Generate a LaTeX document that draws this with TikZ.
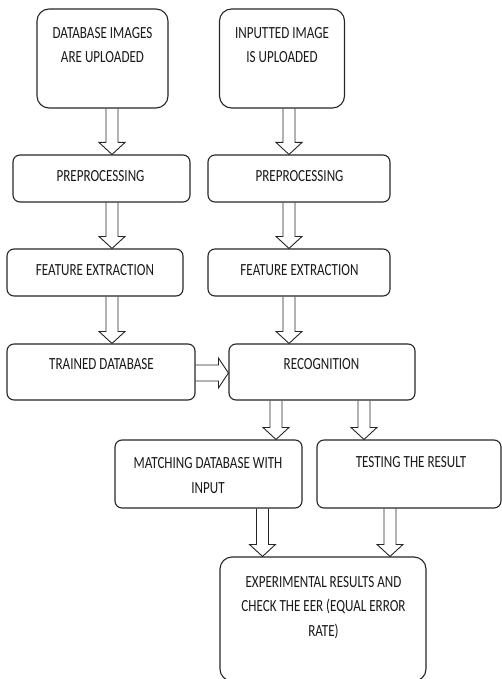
\documentclass[tikz,border=0pt]{standalone}
\usepackage{fontspec}
\setmainfont{Carlito}[FakeStretch=0.77]
\usetikzlibrary{calc}

\tikzset{
  box/.style={draw=black!85, line width=1.1pt, rounded corners=7pt},
  tallbox/.style={box, rounded corners=12pt},
  lbl/.style={align=center, inner sep=0pt, text=black!90, font=\fontsize{17}{24.5}\selectfont},
  blockarrow/.style={draw=black!85, line width=0.9pt, line join=miter}
}

% hollow arrow going down: x, upper node, lower node
\newcommand{\varrow}[3]{%
  \draw[blockarrow] let \p1=(#2.south), \p2=(#3.north) in
    (#1-6,\y1) -- (#1-6,\y2+12) -- (#1-13,\y2+12) -- (#1,\y2)
    -- (#1+13,\y2+12) -- (#1+6,\y2+12) -- (#1+6,\y1);
}
% hollow arrow going right: y, left node, right node
\newcommand{\harrow}[3]{%
  \draw[blockarrow] let \p1=(#2.east), \p2=(#3.west) in
    (\x1,#1+8) -- (\x2-10,#1+8) -- (\x2-10,#1+15) -- (\x2,#1)
    -- (\x2-10,#1-15) -- (\x2-10,#1-8) -- (\x1,#1-8);
}

\begin{document}
\begin{tikzpicture}[x=1pt,y=1pt]
\useasboundingbox (0,0) rectangle (502,-679);

% boxes
\node[tallbox, minimum width=131pt, minimum height=99pt] (db) at (102.5,-58.5) {};
\node[tallbox, minimum width=125pt, minimum height=99pt] (inp) at (282,-58.5) {};
\node[box, minimum width=177pt, minimum height=47pt] (prel) at (101.5,-178.5) {};
\node[box, minimum width=182pt, minimum height=47pt] (prer) at (299,-178.5) {};
\node[box, minimum width=176pt, minimum height=47pt] (fel) at (95,-272.5) {};
\node[box, minimum width=182pt, minimum height=47pt] (fer) at (299,-272.5) {};
\node[box, minimum width=188pt, minimum height=56pt] (trn) at (101,-372) {};
\node[box, minimum width=186pt, minimum height=56pt] (rec) at (322,-372) {};
\node[box, minimum width=187pt, minimum height=68pt] (mat) at (208.5,-474) {};
\node[box, minimum width=184pt, minimum height=68pt] (tst) at (409,-474) {};
\node[tallbox, minimum width=206pt, minimum height=124pt] (exp) at (323,-619) {};

% texts
\node[lbl] (dbt) at (102.5,-45) {DATABASE IMAGES\\ARE UPLOADED};
\node[lbl] (inpt) at (282,-45) {INPUTTED IMAGE\\IS UPLOADED};
\node[lbl] (prelt) at (100.5,-176) {PREPROCESSING};
\node[lbl] (prert) at (299.5,-176) {PREPROCESSING};
\node[lbl] (felt) at (95,-270) {FEATURE EXTRACTION};
\node[lbl] (fert) at (299.5,-270) {FEATURE EXTRACTION};
\node[lbl] (trnt) at (101.5,-364) {TRAINED DATABASE};
\node[lbl] (rect) at (321.5,-364) {RECOGNITION};
\node[lbl] (matt) at (208,-475.5) {MATCHING DATABASE WITH\\INPUT};
\node[lbl] (tstt) at (411,-462) {TESTING THE RESULT};
\node[lbl] (expt) at (323.5,-607.5) {EXPERIMENTAL RESULTS AND\\CHECK THE EER (EQUAL ERROR\\RATE)};

% arrows
\varrow{112}{db}{prel}
\varrow{289}{inp}{prer}
\varrow{112}{prel}{fel}
\varrow{289}{prer}{fer}
\varrow{112}{fel}{trn}
\varrow{289}{fer}{rec}
\harrow{-373}{trn}{rec}
\varrow{276}{rec}{mat}
\varrow{364}{rec}{tst}
\varrow{262.5}{mat}{exp}
\varrow{390}{tst}{exp}
\end{tikzpicture}
\end{document}
